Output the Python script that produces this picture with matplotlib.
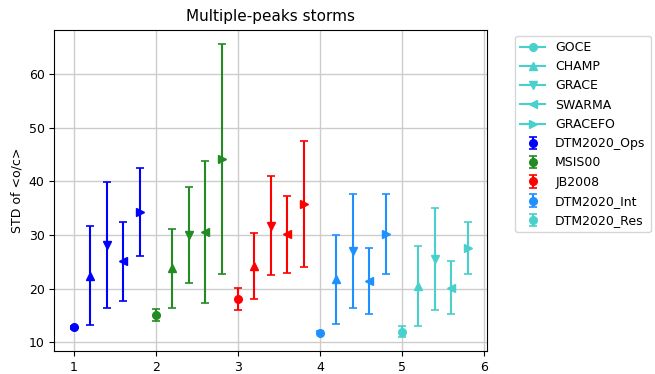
import matplotlib
matplotlib.use("Agg")
import matplotlib.pyplot as plt
from matplotlib.lines import Line2D

models = ["DTM2020_Ops", "MSIS00", "JB2008", "DTM2020_Int", "DTM2020_Res"]
colors = ["blue", "forestgreen", "red", "dodgerblue", "mediumturquoise"]
satellites = ["GOCE", "CHAMP", "GRACE", "SWARMA", "GRACEFO"]
markers = ["o", "^", "v", "<", ">"]
offsets = [0.0, 0.2, 0.4, 0.6, 0.8]

# mean STD per model (rows) and satellite (columns)
means = [
    [12.8, 22.4, 28.15, 25.05, 34.3],
    [15.1, 23.75, 30.0, 30.55, 44.1],
    [18.05, 24.2, 31.7, 30.15, 35.7],
    [11.8, 21.7, 27.0, 21.45, 30.15],
    [12.0, 20.55, 25.55, 20.2, 27.55],
]
errors = [
    [0.3, 9.2, 11.75, 7.35, 8.2],
    [1.1, 7.35, 9.0, 13.25, 21.4],
    [2.05, 6.1, 9.2, 7.15, 11.7],
    [0.3, 8.2, 10.6, 6.15, 7.45],
    [0.95, 7.45, 9.55, 4.9, 4.85],
]
positions = [1, 2, 3, 4, 5]

fig = plt.figure(figsize=(6.55, 3.74), dpi=100)
ax = fig.add_axes([0.083, 0.0607, 0.661, 0.86])

handles = []
for i, m in enumerate(models):
    h = None
    for j, s in enumerate(satellites):
        eb = ax.errorbar(positions[i] + offsets[j], means[i][j], yerr=errors[i][j],
                         fmt=markers[j], color=colors[i], ecolor=colors[i],
                         capsize=3, markersize=5.5, elinewidth=1.5, capthick=1.2)
        if j == 0:
            h = eb
    handles.append(h)

sat_handles = [Line2D([0], [0], color=colors[-1], marker=mk, markersize=5.5, lw=1.5)
               for mk in markers]

ax.grid(True, color="#cccccc", linewidth=1.0)
ax.set_axisbelow(True)
ax.set_title("Multiple-peaks storms", fontsize=11)
ax.set_ylabel("STD of <o/c>", fontsize=9)
ax.tick_params(labelsize=9)
ax.set_xticks([1, 2, 3, 4, 5, 6])
ax.set_yticks([10, 20, 30, 40, 50, 60])

ax.legend(sat_handles + handles, satellites + models, loc="upper left",
          bbox_to_anchor=(1.05, 1), fontsize=9)

fig.savefig("out.png", dpi=100)
